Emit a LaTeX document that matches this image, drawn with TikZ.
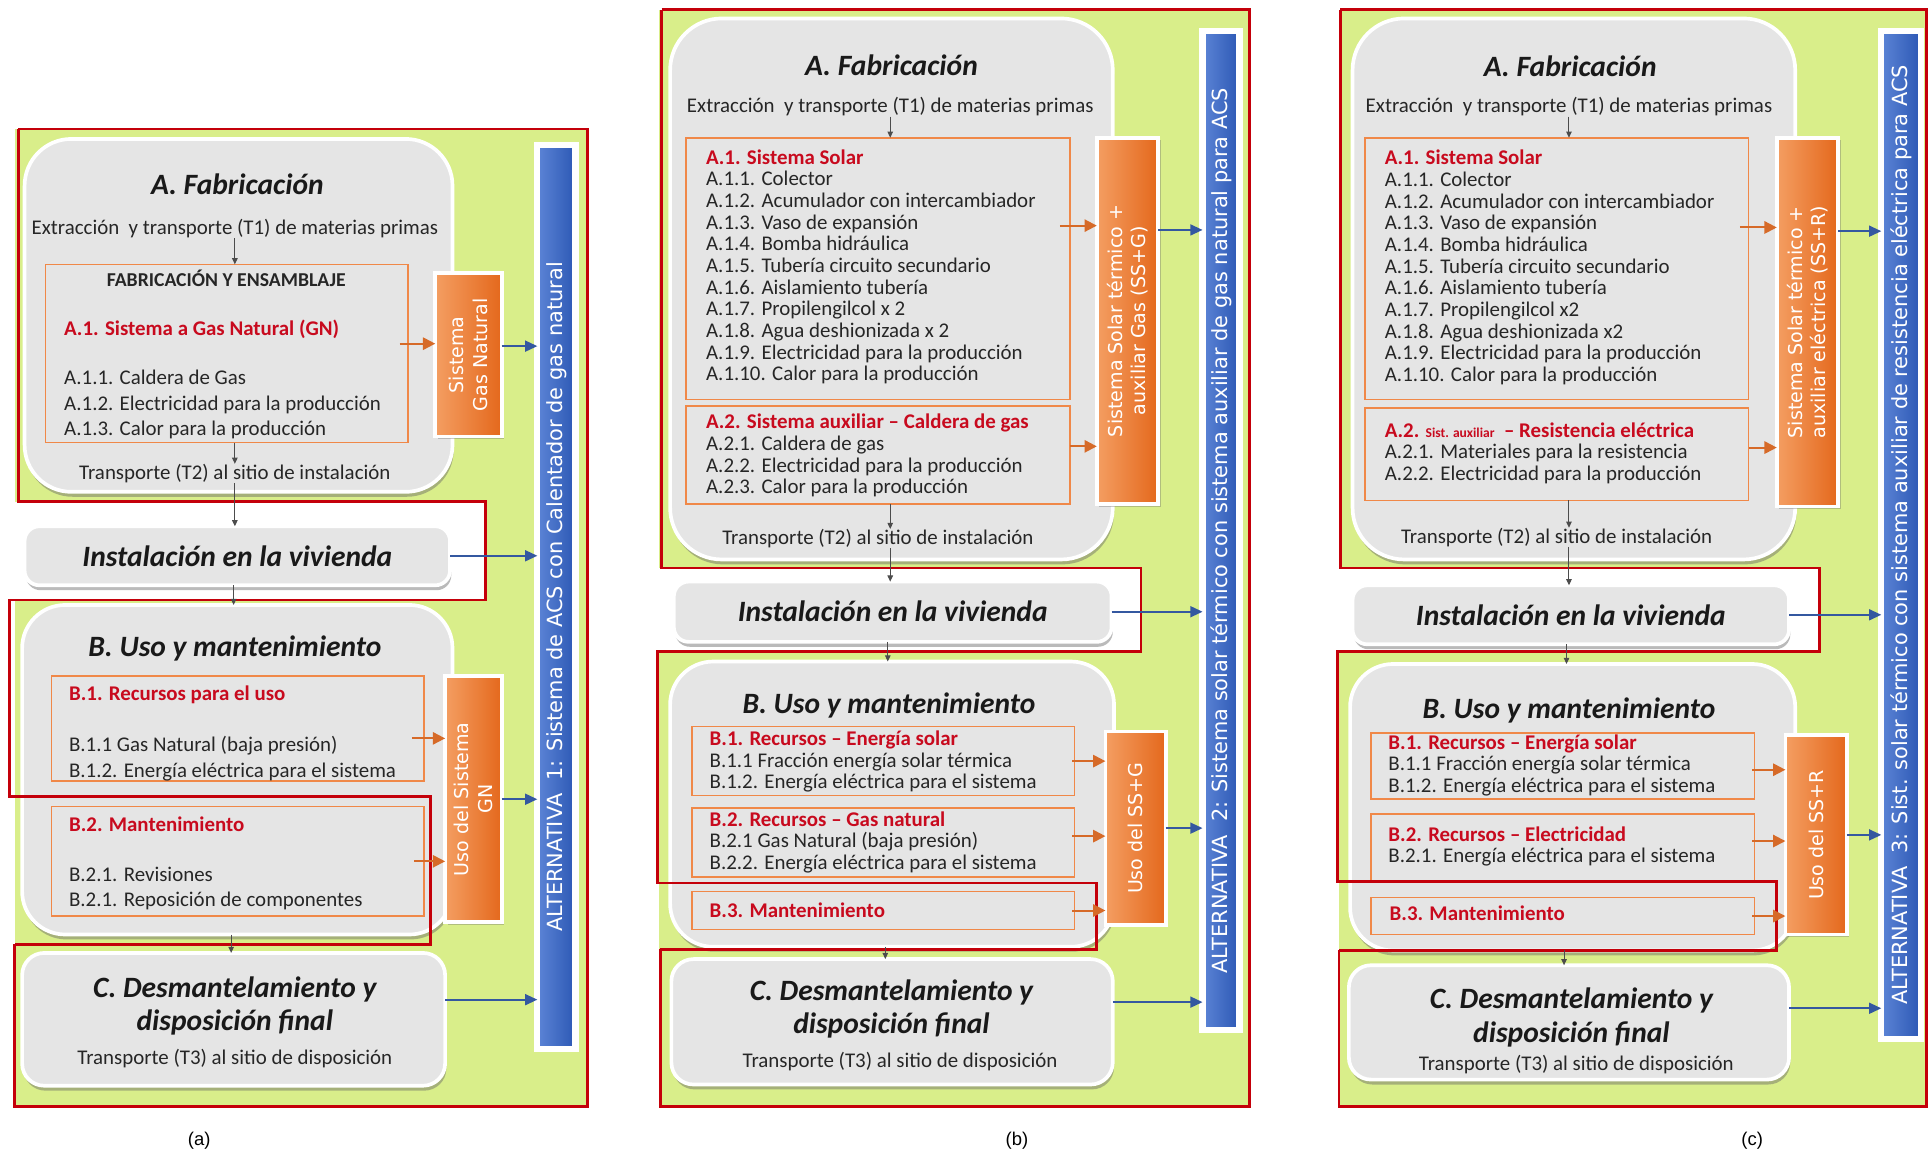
\documentclass[tikz,border=0pt]{standalone}
\usepackage{fontspec}
\setmainfont{Carlito}
\newfontfamily\dvfont{DejaVu Sans}
\newfontfamily\arfont{Liberation Sans}
\usetikzlibrary{shadows,arrows.meta,calc}
\definecolor{greenF}{RGB}{217,238,138}
\definecolor{redL}{RGB}{196,0,10}
\definecolor{redT}{RGB}{200,10,30}
\definecolor{greyF}{RGB}{229,229,229}
\definecolor{orB}{RGB}{240,136,72}
\definecolor{orL}{RGB}{244,158,98}
\definecolor{orD}{RGB}{228,104,28}
\definecolor{orA}{RGB}{214,106,40}
\definecolor{blL}{RGB}{92,132,214}
\definecolor{blD}{RGB}{44,88,180}
\definecolor{blA}{RGB}{52,88,160}
\newcommand\redt[1]{{\color{redT}\bfseries #1}}
\newcommand\bx[7]{\node[#1,minimum width={(#5)-(#3)},minimum height={(#6)-(#4)}] (#2) at ({((#3)+(#5))/2},{((#4)+(#6))/2}) {#7};}
\newcommand\harr[4]{\coordinate (#2) at (#3); \draw[#1] (#2) -- (#2 -| #4);}
\newcommand\varr[4]{\coordinate (#2) at (#3); \draw[#1] (#2) -- (#2 |- #4);}
\tikzset{
  gbox/.style={draw=white, line width=3pt, fill=greyF, rounded corners=#1, inner sep=0pt, outer sep=0pt,
    drop shadow={shadow xshift=1pt, shadow yshift=-4pt, opacity=.45, fill=black!60}},
  gbox/.default=30pt,
  obox/.style={draw=orB, line width=1.3pt, inner sep=0pt, outer sep=0pt},
  obar/.style={draw=white, line width=3pt, left color=orL, right color=orD, inner sep=0pt, outer sep=0pt,
    drop shadow={shadow xshift=2pt, shadow yshift=-2pt, opacity=.35, fill=black!60}},
  bbar/.style={draw=white, line width=5pt, left color=blL, right color=blD, inner sep=0pt, outer sep=0pt,
    drop shadow={shadow xshift=2pt, shadow yshift=-2pt, opacity=.3, fill=black!60}},
  redl/.style={draw=redL, line width=2.2pt},
  blk/.style={-{Triangle[length=5pt,width=4.5pt]}, draw=black!70, line width=0.8pt},
  oarr/.style={-{Triangle[length=10pt,width=10pt]}, draw=orA, line width=1.6pt},
  barr/.style={-{Triangle[length=10pt,width=9pt]}, draw=blA, line width=1.4pt},
  txt/.style={font=\fontsize{17}{19}\selectfont, text=black!85, inner sep=0pt},
  ttl/.style={font=\fontsize{24}{27}\selectfont\bfseries\itshape, text=black!90, inner sep=0pt},
  rtxt/.style={font=\fontsize{17}{19}\selectfont\bfseries, text=redT, inner sep=0pt},
  btxt/.style={font=\fontsize{16}{19}\selectfont\bfseries, text=black!85, inner sep=0pt},
  lst/.style={font=\fontsize{17}{17.6}\selectfont, text=black!85, align=left, inner sep=0pt},
  lsta/.style={font=\fontsize{17}{20.5}\selectfont, text=black!85, align=left, inner sep=0pt},
  otxt/.style={font=\dvfont\fontsize{15.5}{19}\selectfont, text=white, align=center, inner sep=0pt},
  bltxt/.style={font=\dvfont\fontsize{17}{19}\selectfont, text=white, inner sep=0pt},
  lbl/.style={font=\arfont\fontsize{15}{18}\selectfont, inner sep=0pt}
}
\begin{document}
\begin{tikzpicture}[x=1pt,y=-1pt]
\useasboundingbox (0,0) rectangle (1568,939);
\fill[white] (0,0) rectangle (1568,939);
% ---------- backgrounds ----------
\fill[greenF] (12,105) rectangle (478,900);
\fill[white] (12,408) rectangle (395,488);
\fill[greenF] (536,8) rectangle (1016,900);
\fill[white] (536,462) rectangle (928,530);
\fill[greenF] (1089,8) rectangle (1568,900);
\fill[white] (1089,462) rectangle (1480,530);

% ================= PANEL (a) =================
\bx{gbox=38pt}{a-A}{20}{113}{368}{400}{}
\bx{gbox=12pt,ttl}{a-inst}{20}{428}{366}{476}{Instalación en la vivienda}
\bx{gbox=35pt}{a-B}{18}{492}{368}{760}{}
\bx{gbox=18pt}{a-C}{18}{775}{362}{883}{}
\node[ttl] (a-At) at (193,150) {A. Fabricación};
\node[txt] (a-ext) at (191,186) {Extracción\ \ y transporte (T1) de materias primas};
\bx{obox}{a-in}{37}{215}{332}{360}{}
\node[btxt] (a-fe) at (184,226) {FABRICACIÓN Y ENSAMBLAJE};
\node[rtxt, anchor=west] (a-a1) at (52,268) {A.1. Sistema a Gas Natural (GN)};
\node[lsta, anchor=west] (a-a1l) at (52,329) {A.1.1. Caldera de Gas\\A.1.2. Electricidad para la producción\\A.1.3. Calor para la producción};
\node[txt] (a-t2) at (191,385) {Transporte (T2) al sitio de instalación};
\bx{obar}{a-ob}{354}{222}{408}{355}{}
\node[otxt, rotate=90] (a-obt) at (a-ob.center) {Sistema\\Gas Natural};
\node[ttl] (a-Bt) at (191,527) {B. Uso y mantenimiento};
\bx{obox}{a-b1}{42}{550}{345}{635}{}
\node[rtxt, anchor=west] (a-b1t) at (56,565) {B.1. Recursos para el uso};
\node[lsta, anchor=west] (a-b1l) at (56,617) {B.1.1 Gas Natural (baja presión)\\B.1.2. Energía eléctrica para el sistema};
\bx{obox}{a-b2}{42}{656}{345}{745}{}
\node[rtxt, anchor=west] (a-b2t) at (56,670) {B.2. Mantenimiento};
\node[lsta, anchor=west] (a-b2l) at (56,722.5) {B.2.1. Revisiones\\B.2.1. Reposición de componentes};
\bx{obar}{a-ub}{362}{550}{408}{750}{}
\node[otxt, rotate=90] (a-ubt) at (a-ub.center) {Uso del Sistema\\GN};
\node[ttl, align=center] (a-Ct) at (191,818) {C. Desmantelamiento y\\disposición final};
\node[txt] (a-t3) at (191,861) {Transporte (T3) al sitio de disposición};
\bx{bbar}{a-bl}{437}{118}{468}{853}{}
\node[bltxt, rotate=90] (a-blt) at (a-bl.center) {ALTERNATIVA\ \ 1: Sistema de ACS con Calentador de gas natural};

% ================= PANEL (b) =================
\bx{gbox=42pt}{b-A}{545}{15}{905}{455}{}
\bx{gbox=12pt,ttl}{b-inst}{548}{473}{904}{522}{Instalación en la vivienda}
\bx{gbox=35pt}{b-B}{545}{538}{906}{770}{}
\bx{gbox=18pt}{b-C}{546}{780}{905}{882}{}
\node[ttl] (b-At) at (725,53) {A. Fabricación};
\node[txt] (b-ext) at (724,87) {Extracción\ \ y transporte (T1) de materias primas};
\bx{obox}{b-a1}{558}{112}{870}{325}{}
\node[lst, anchor=west] (b-a1l) at (574,217) {\redt{A.1. Sistema Solar}\\A.1.1. Colector\\A.1.2. Acumulador con intercambiador\\A.1.3. Vaso de expansión\\A.1.4. Bomba hidráulica\\A.1.5. Tubería circuito secundario\\A.1.6. Aislamiento tubería\\A.1.7. Propilengilcol x 2\\A.1.8. Agua deshionizada x 2\\A.1.9. Electricidad para la producción\\A.1.10. Calor para la producción};
\bx{obox}{b-a2}{558}{330}{870}{410}{}
\node[lst, anchor=west] (b-a2l) at (574,370.5) {\redt{A.2. Sistema auxiliar – Caldera de gas}\\A.2.1. Caldera de gas\\A.2.2. Electricidad para la producción\\A.2.3. Calor para la producción};
\node[txt] (b-t2) at (714,438) {Transporte (T2) al sitio de instalación};
\bx{obar}{b-ob}{892}{112}{942}{410}{}
\node[otxt, rotate=90] (b-obt) at (b-ob.center) {Sistema Solar térmico +\\auxiliar Gas (SS+G)};
\node[ttl] (b-Bt) at (723,574) {B. Uso y mantenimiento};
\bx{obox}{b-b1}{563}{591}{874}{647}{}
\node[lst, anchor=west] (b-b1l) at (577,619.5) {\redt{B.1. Recursos – Energía solar}\\B.1.1 Fracción energía solar térmica\\B.1.2. Energía eléctrica para el sistema};
\bx{obox}{b-b2}{563}{657}{874}{713}{}
\node[lst, anchor=west] (b-b2l) at (577,685) {\redt{B.2. Recursos – Gas natural}\\B.2.1 Gas Natural (baja presión)\\B.2.2. Energía eléctrica para el sistema};
\bx{obox}{b-b3}{563}{725}{874}{756}{}
\node[rtxt, anchor=west] (b-b3t) at (577,740) {B.3. Mantenimiento};
\bx{obar}{b-ub}{899}{595}{948}{752}{}
\node[otxt, rotate=90] (b-ubt) at (b-ub.center) {Uso del SS+G};
\node[ttl, align=center] (b-Ct) at (725,820.5) {C. Desmantelamiento y\\disposición final};
\node[txt] (b-t3) at (732,863) {Transporte (T3) al sitio de disposición};
\bx{bbar}{b-bl}{978}{25}{1008}{838}{}
\node[bltxt, rotate=90] (b-blt) at (b-bl.center) {ALTERNATIVA\ \ 2: Sistema solar térmico con sistema auxiliar de gas natural para ACS};

% ================= PANEL (c) =================
\bx{gbox=42pt}{c-A}{1100}{15}{1460}{455}{}
\bx{gbox=12pt,ttl}{c-inst}{1100}{476}{1455}{524}{Instalación en la vivienda}
\bx{gbox=35pt}{c-B}{1098}{540}{1460}{773}{}
\bx{gbox=18pt}{c-C}{1097}{785}{1455}{878}{}
\node[ttl] (c-At) at (1277,54) {A. Fabricación};
\node[txt] (c-ext) at (1276,87) {Extracción\ \ y transporte (T1) de materias primas};
\bx{obox}{c-a1}{1110}{112}{1422}{325}{}
\node[lst, anchor=west] (c-a1l) at (1126,217.5) {\redt{A.1. Sistema Solar}\\A.1.1. Colector\\A.1.2. Acumulador con intercambiador\\A.1.3. Vaso de expansión\\A.1.4. Bomba hidráulica\\A.1.5. Tubería circuito secundario\\A.1.6. Aislamiento tubería\\A.1.7. Propilengilcol x2\\A.1.8. Agua deshionizada x2\\A.1.9. Electricidad para la producción\\A.1.10. Calor para la producción};
\bx{obox}{c-a2}{1110}{332}{1422}{407}{}
\node[lst, anchor=west] (c-a2l) at (1126,368.5) {\redt{A.2. {\fontsize{11}{12}\selectfont Sist. auxiliar}\ \ – Resistencia eléctrica}\\A.2.1. Materiales para la resistencia\\A.2.2. Electricidad para la producción};
\node[txt] (c-t2) at (1266,437) {Transporte (T2) al sitio de instalación};
\bx{obar}{c-ob}{1445}{112}{1495}{412}{}
\node[otxt, rotate=90] (c-obt) at (c-ob.center) {Sistema Solar térmico +\\auxiliar eléctrica (SS+R)};
\node[ttl] (c-Bt) at (1276,578) {B. Uso y mantenimiento};
\bx{obox}{c-b1}{1115}{596}{1427}{650}{}
\node[lst, anchor=west] (c-b1l) at (1129,622.5) {\redt{B.1. Recursos – Energía solar}\\B.1.1 Fracción energía solar térmica\\B.1.2. Energía eléctrica para el sistema};
\bx{obox}{c-b2}{1115}{662}{1427}{717}{}
\node[lst, anchor=west] (c-b2l) at (1129,688.5) {\redt{B.2. Recursos – Electricidad}\\B.2.1. Energía eléctrica para el sistema};
\bx{obox}{c-b3}{1115}{730}{1427}{760}{}
\node[rtxt, anchor=west] (c-b3t) at (1130,743) {B.3. Mantenimiento};
\bx{obar}{c-ub}{1452}{598}{1502}{760}{}
\node[otxt, rotate=90] (c-ubt) at (c-ub.center) {Uso del SS+R};
\node[ttl, align=center] (c-Ct) at (1278,827.5) {C. Desmantelamiento y\\disposición final};
\node[txt] (c-t3) at (1282,866) {Transporte (T3) al sitio de disposición};
\bx{bbar}{c-bl}{1530}{25}{1562}{845}{}
\node[bltxt, rotate=90] (c-blt) at (c-bl.center) {ALTERNATIVA\ \ 3: Sist. solar térmico con sistema auxiliar de resistencia eléctrica para ACS};

% ---------- red frames ----------
\draw[redl] (15,105) -- (478,105) -- (478,900) -- (12,900) -- (12,768);
\draw[redl] (15,105) -- (15,408) -- (395,408) -- (395,488) -- (8,488) -- (8,648) -- (350,648) -- (350,768) -- (12,768);
\draw[redl] (538,8) -- (1016,8) -- (1016,900) -- (537,900) -- (537,772);
\draw[redl] (538,8) -- (538,462) -- (928,462) -- (928,530) -- (535,530) -- (535,718) -- (892,718) -- (892,772) -- (537,772);
\draw[redl] (1090,8) -- (1567,8) -- (1567,900) -- (1089,900) -- (1089,773);
\draw[redl] (1090,8) -- (1090,462) -- (1480,462) -- (1480,530) -- (1088,530) -- (1088,717) -- (1445,717) -- (1445,773) -- (1089,773);

% ---------- connectors (a) ----------
\varr{blk}{av1}{a-ext.south}{a-in.north}
\varr{blk}{av2}{av1 |- a-in.south}{a-t2.north}
\varr{blk}{av3}{av1 |- a-t2.south}{a-inst.north}
\varr{blk}{av4}{[xshift=-3pt]a-inst.south}{a-B.north}
\varr{blk}{av5}{[xshift=-5pt]a-B.south}{a-C.north}
\harr{oarr}{ao1}{[xshift=-7pt,yshift=8pt]a-in.east}{a-ob.west}
\harr{oarr}{ao2}{[xshift=-10pt,yshift=-8pt]a-b1.east}{a-ub.west}
\harr{oarr}{ao3}{[xshift=-8pt]a-b2.east}{a-ub.west}
\harr{barr}{ab1}{[yshift=7pt]a-ob.east}{a-bl.west}
\harr{barr}{ab2}{a-inst.east}{a-bl.west}
\harr{barr}{ab3}{a-ub.east}{a-bl.west}
\harr{barr}{ab4}{[yshift=16pt]a-C.east}{a-bl.west}
% ---------- connectors (b) ----------
\varr{blk}{bv1}{b-ext.south}{b-a1.north}
\varr{blk}{bv2}{bv1 |- b-a2.south}{b-t2.north}
\varr{blk}{bv3}{bv1 |- b-t2.south}{b-inst.north}
\varr{blk}{bv4}{[xshift=-4pt]b-inst.south}{b-B.north}
\varr{blk}{bv5}{[xshift=-5.5pt]b-B.south}{b-C.north}
\harr{oarr}{bo1}{[xshift=-8pt,yshift=35pt]b-a1.east}{b-ob.west}
\harr{oarr}{bo2}{[yshift=7pt]b-a2.east}{b-ob.west}
\harr{oarr}{bo3}{[xshift=-2pt]b-b1.east}{b-ub.west}
\harr{oarr}{bo4}{[xshift=-2pt,yshift=5pt]b-b2.east}{b-ub.west}
\harr{oarr}{bo5}{[xshift=-2pt]b-b3.east}{b-ub.west}
\harr{barr}{bb1}{[yshift=74pt]b-ob.east}{b-bl.west}
\harr{barr}{bb2}{b-inst.east}{b-bl.west}
\harr{barr}{bb3}{b-ub.east}{b-bl.west}
\harr{barr}{bb4}{[yshift=16pt]b-C.east}{b-bl.west}
% ---------- connectors (c) ----------
\varr{blk}{cv1}{c-ext.south}{c-a1.north}
\varr{blk}{cv2}{cv1 |- c-a2.south}{c-t2.north}
\varr{blk}{cv3}{cv1 |- c-t2.south}{c-inst.north}
\varr{blk}{cv4}{[xshift=-3.5pt]c-inst.south}{c-B.north}
\varr{blk}{cv5}{[xshift=-7pt]c-B.south}{c-C.north}
\harr{oarr}{co1}{[xshift=-7pt,yshift=33.5pt]c-a1.east}{c-ob.west}
\harr{oarr}{co2}{[yshift=5.5pt]c-a2.east}{c-ob.west}
\harr{oarr}{co3}{[xshift=-2pt,yshift=-3pt]c-b1.east}{c-ub.west}
\harr{oarr}{co4}{[xshift=-2pt,yshift=5.5pt]c-b2.east}{c-ub.west}
\harr{oarr}{co5}{[xshift=-2pt]c-b3.east}{c-ub.west}
\harr{barr}{cb1}{[yshift=74pt]c-ob.east}{c-bl.west}
\harr{barr}{cb2}{c-inst.east}{c-bl.west}
\harr{barr}{cb3}{c-ub.east}{c-bl.west}
\harr{barr}{cb4}{[yshift=11.5pt]c-C.east}{c-bl.west}

% ---------- panel labels ----------
\node[lbl] (la) at (162,928) {(a)};
\node[lbl] (lb) at (827,928) {(b)};
\node[lbl] (lc) at (1425,928) {(c)};
\end{tikzpicture}
\end{document}
